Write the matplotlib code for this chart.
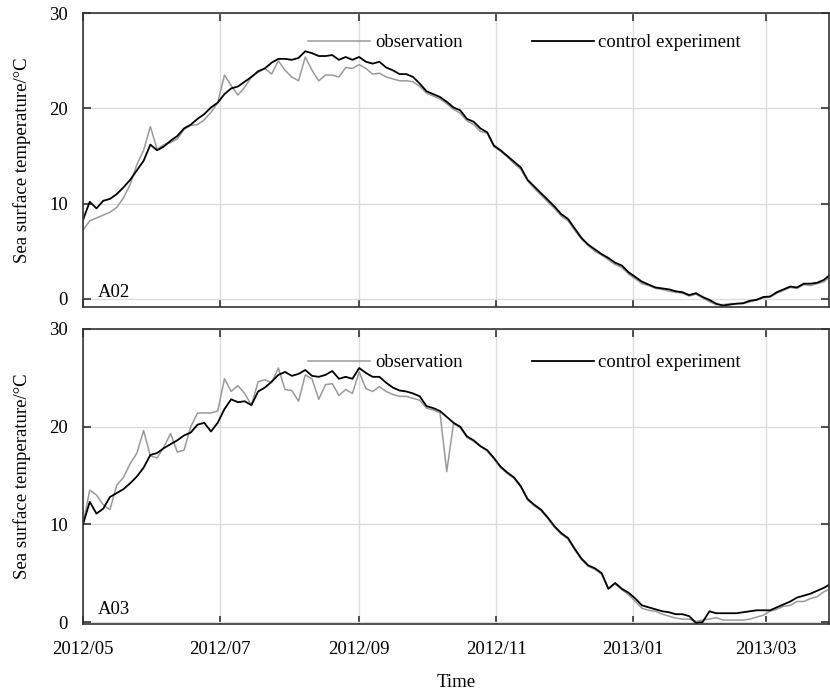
import matplotlib
matplotlib.use("Agg")
import matplotlib.pyplot as plt
import matplotlib.dates as mdates
import pandas as pd
from datetime import datetime

plt.rcParams['font.family'] = ['Liberation Serif', 'DejaVu Serif']
plt.rcParams['font.size'] = 13.5

# sampled every 3 days from 2012/05/01
dates = pd.date_range('2012-05-01', periods=112, freq='3D')

a02_obs = [7.2, 8.2, 8.5, 8.8, 9.1, 9.6, 10.6, 12.0, 14.1, 15.6, 18.1, 15.7, 16.2, 16.4, 16.8, 17.8,
           18.2, 18.3, 18.8, 19.6, 20.6, 23.5, 22.4, 21.4, 22.2, 23.3, 23.8, 24.2, 23.6, 25.0, 24.0, 23.3,
           22.9, 25.4, 24.0, 22.9, 23.5, 23.5, 23.3, 24.3, 24.2, 24.6, 24.2, 23.6, 23.7, 23.3, 23.1, 22.9,
           22.9, 22.8, 22.3, 21.6, 21.3, 21.0, 20.5, 19.9, 19.5, 18.7, 18.3, 17.6, 17.4, 16.0, 15.5, 14.9,
           14.2, 13.6, 12.4, 11.6, 10.9, 10.2, 9.5, 8.7, 8.2, 7.2, 6.3, 5.6, 5.0, 4.6, 4.1, 3.6,
           3.3, 2.6, 2.1, 1.6, 1.4, 1.1, 1.0, 0.8, 0.7, 0.6, 0.3, 0.5, 0.1, -0.3, -0.6, -0.6,
           -0.5, -0.5, -0.5, -0.3, -0.1, 0.1, 0.2, 0.6, 0.9, 1.2, 1.1, 1.5, 1.4, 1.6, 1.8, 2.4]
a02_ctl = [8.3, 10.2, 9.5, 10.3, 10.5, 11.0, 11.7, 12.5, 13.5, 14.5, 16.2, 15.6, 16.0, 16.6, 17.1, 17.9,
           18.3, 18.9, 19.4, 20.1, 20.6, 21.5, 22.1, 22.3, 22.8, 23.3, 23.9, 24.2, 24.8, 25.2, 25.2, 25.1,
           25.3, 26.0, 25.8, 25.5, 25.5, 25.6, 25.1, 25.4, 25.1, 25.4, 24.9, 24.7, 24.9, 24.3, 24.0, 23.6,
           23.6, 23.3, 22.6, 21.8, 21.5, 21.2, 20.7, 20.1, 19.8, 18.9, 18.6, 17.9, 17.5, 16.1, 15.6, 15.0,
           14.4, 13.8, 12.5, 11.8, 11.1, 10.4, 9.7, 8.9, 8.4, 7.4, 6.4, 5.7, 5.2, 4.7, 4.3, 3.8,
           3.5, 2.8, 2.3, 1.8, 1.5, 1.2, 1.1, 1.0, 0.8, 0.7, 0.4, 0.6, 0.2, -0.1, -0.5, -0.7,
           -0.6, -0.5, -0.45, -0.2, -0.1, 0.2, 0.25, 0.7, 1.0, 1.3, 1.2, 1.6, 1.6, 1.7, 2.0, 2.6]
a03_obs = [10.0, 13.5, 13.0, 12.0, 11.5, 14.0, 14.8, 16.2, 17.3, 19.6, 17.0, 16.8, 17.9, 19.3, 17.4, 17.6,
           20.0, 21.4, 21.4, 21.4, 21.6, 24.9, 23.6, 24.2, 23.4, 22.2, 24.6, 24.8, 24.5, 26.0, 23.8, 23.7,
           22.6, 25.3, 24.9, 22.8, 24.3, 24.4, 23.2, 23.8, 23.4, 25.6, 23.9, 23.6, 24.1, 23.6, 23.3, 23.1,
           23.1, 22.9, 22.7, 21.9, 21.7, 21.4, 15.4, 20.3, 19.9, 18.9, 18.5, 18.0, 17.5, 16.7, 15.8, 15.2,
           14.7, 13.8, 12.5, 11.9, 11.4, 10.6, 9.7, 9.0, 8.5, 7.4, 6.4, 5.7, 5.4, 4.9, 3.4, 3.9,
           3.3, 2.8, 2.1, 1.4, 1.2, 1.1, 0.8, 0.6, 0.4, 0.3, 0.3, 0.05, 0.2, 0.3, 0.45, 0.2,
           0.2, 0.2, 0.2, 0.3, 0.5, 0.7, 1.1, 1.3, 1.6, 1.7, 2.1, 2.1, 2.4, 2.6, 3.1, 3.4]
a03_ctl = [10.0, 12.3, 11.1, 11.6, 12.8, 13.2, 13.6, 14.2, 14.9, 15.8, 17.1, 17.3, 17.8, 18.2, 18.6, 19.1,
           19.4, 20.2, 20.4, 19.5, 20.4, 21.8, 22.8, 22.5, 22.6, 22.2, 23.6, 24.0, 24.6, 25.3, 25.6, 25.2,
           25.4, 25.8, 25.2, 25.1, 25.3, 25.7, 24.9, 25.1, 24.9, 26.0, 25.5, 25.1, 25.1, 24.5, 24.0, 23.7,
           23.6, 23.4, 23.1, 22.1, 21.9, 21.6, 21.0, 20.4, 20.0, 19.0, 18.6, 18.0, 17.6, 16.8, 15.9, 15.3,
           14.8, 13.9, 12.6, 12.0, 11.5, 10.7, 9.8, 9.1, 8.6, 7.5, 6.5, 5.8, 5.5, 5.0, 3.4, 4.0,
           3.4, 3.0, 2.4, 1.7, 1.5, 1.3, 1.1, 1.0, 0.8, 0.8, 0.6, -0.1, 0.0, 1.1, 0.9, 0.9,
           0.9, 0.9, 1.0, 1.1, 1.2, 1.2, 1.2, 1.5, 1.8, 2.1, 2.5, 2.7, 2.9, 3.2, 3.5, 3.9]

stations = ['A02', 'A03']
obs = [a02_obs, a03_obs]
ctl = [a02_ctl, a03_ctl]
ylow = [-0.85, -0.2]
leg_y = [0.90, 0.885]

fig = plt.figure(figsize=(8.3, 6.93), dpi=100)
ax1 = fig.add_axes([0.1, 0.557, 0.899, 0.424])
ax2 = fig.add_axes([0.1, 0.0996, 0.899, 0.4257])

for i, ax in enumerate([ax1, ax2]):
    ax.plot(dates, obs[i], color='#9a9a9a', lw=1.1, label='observation')
    ax.plot(dates, ctl[i], color='black', lw=1.3, label='control experiment')
    ax.set_xlim(datetime(2012, 5, 1), datetime(2013, 3, 29, 8))
    ax.set_ylim(ylow[i], 30)
    ax.set_yticks([0, 10, 20, 30])
    ax.xaxis.set_major_locator(mdates.MonthLocator(bymonth=[1, 3, 5, 7, 9, 11]))
    ax.xaxis.set_major_formatter(mdates.DateFormatter('%Y/%m'))
    ax.grid(True, color='#dcdcdc', lw=1.0)
    ax.set_axisbelow(True)
    ax.tick_params(direction='in', length=6, width=1.2, top=True, right=True, color='#333333')
    ax.tick_params(axis='y', pad=11)
    ax.tick_params(axis='x', pad=12.5)
    for s in ax.spines.values():
        s.set_linewidth(1.2)
        s.set_color('#333333')
    ax.set_ylabel('Sea surface temperature/°C', labelpad=13)
    ax.text(0.02, 0.035, stations[i], transform=ax.transAxes, va='baseline')
    ax.legend(loc='center left', bbox_to_anchor=(0.302, leg_y[i]), ncol=2, frameon=False,
              handlelength=3.3, handletextpad=0.25, columnspacing=3.7, borderaxespad=0, borderpad=0)

ax1.tick_params(axis='x', labelbottom=False)
ax2.set_xlabel('Time', labelpad=11.5)

fig.savefig('out.png', dpi=100)
